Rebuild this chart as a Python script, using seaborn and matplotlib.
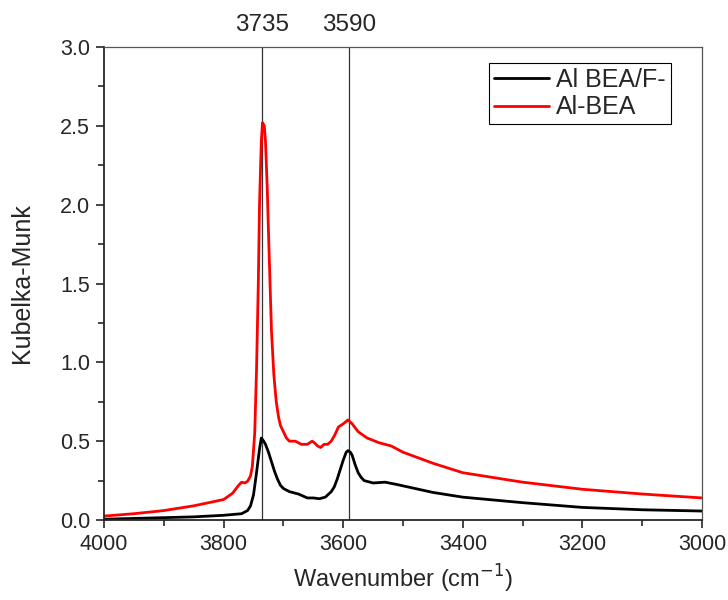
import pandas as pd
import matplotlib
matplotlib.use("Agg")
import matplotlib.pyplot as plt
import seaborn as sns
from matplotlib.ticker import MultipleLocator

# --- spectra (wavenumber in cm-1, Kubelka-Munk) ---
wn_red = [4000, 3950, 3900, 3850, 3800, 3785, 3775, 3770, 3765, 3760, 3755, 3752, 3748,
          3745, 3742, 3740, 3737, 3735, 3732, 3730, 3727, 3725, 3722, 3720, 3716,
          3712, 3708, 3705, 3700, 3695, 3690, 3680, 3670, 3660, 3652, 3648, 3643,
          3638, 3632, 3626, 3620, 3614, 3608, 3600, 3592, 3585, 3575, 3560, 3540,
          3520, 3500, 3450, 3400, 3350, 3300, 3200, 3100, 3000]
km_red = [0.025, 0.04, 0.06, 0.09, 0.13, 0.17, 0.22, 0.24, 0.235, 0.245, 0.28, 0.34, 0.55,
          0.95, 1.5, 2.0, 2.4, 2.52, 2.5, 2.4, 2.1, 1.83, 1.45, 1.2, 0.92,
          0.75, 0.65, 0.6, 0.56, 0.52, 0.5, 0.5, 0.48, 0.48, 0.5, 0.49, 0.47,
          0.46, 0.48, 0.48, 0.5, 0.54, 0.59, 0.61, 0.635, 0.61, 0.56, 0.52, 0.49,
          0.47, 0.43, 0.36, 0.3, 0.27, 0.24, 0.195, 0.165, 0.14]

wn_black = [4000, 3950, 3900, 3850, 3800, 3770, 3760, 3755, 3750, 3745, 3740, 3737,
            3733, 3730, 3725, 3720, 3715, 3710, 3705, 3700, 3690, 3675, 3660, 3650,
            3640, 3630, 3620, 3615, 3610, 3605, 3600, 3595, 3592, 3588, 3585, 3580,
            3575, 3570, 3565, 3550, 3530, 3510, 3480, 3450, 3400, 3300, 3200, 3100, 3000]
km_black = [0.005, 0.01, 0.015, 0.02, 0.03, 0.04, 0.06, 0.09, 0.16, 0.3, 0.45, 0.52,
            0.5, 0.48, 0.43, 0.37, 0.31, 0.26, 0.22, 0.2, 0.18, 0.165, 0.14, 0.14,
            0.135, 0.145, 0.18, 0.21, 0.26, 0.32, 0.38, 0.43, 0.44, 0.43, 0.41, 0.35,
            0.3, 0.27, 0.25, 0.235, 0.24, 0.225, 0.2, 0.175, 0.145, 0.11, 0.08, 0.065, 0.057]

peaks = [3735, 3590]
series_names = ["Al BEA/F-", "Al-BEA"]
series_colors = ["#000000", "#ff0000"]


def main():
    df = pd.concat([
        pd.DataFrame({"wn": wn_black, "km": km_black, "sample": series_names[0]}),
        pd.DataFrame({"wn": wn_red, "km": km_red, "sample": series_names[1]}),
    ])

    sns.set_style("ticks")
    plt.rcParams["font.family"] = ["Liberation Sans", "DejaVu Sans"]

    fig = plt.figure(figsize=(7.28, 6), dpi=100)
    ax = fig.add_axes([0.1429, 0.1333, 0.8214, 0.7884])

    sns.lineplot(data=df, x="wn", y="km", hue="sample", palette=series_colors,
                 hue_order=series_names, linewidth=2, sort=False, ax=ax)

    for p in peaks:
        ax.axvline(p, color="#333333", linewidth=0.9, zorder=1)
        ax.text(p, 3.07, str(p), ha="center", va="bottom", fontsize=17.5,
                clip_on=False)

    ax.set_xlim(4000, 3000)
    ax.set_ylim(0, 3.0)
    ax.xaxis.set_major_locator(MultipleLocator(200))
    ax.xaxis.set_minor_locator(MultipleLocator(100))
    ax.yaxis.set_major_locator(MultipleLocator(0.5))
    ax.yaxis.set_minor_locator(MultipleLocator(0.25))
    ax.yaxis.set_major_formatter(matplotlib.ticker.FormatStrFormatter("%.1f"))
    ax.tick_params(which="major", direction="out", length=6, width=1.2,
                   labelsize=15.5, pad=4)
    ax.tick_params(which="minor", direction="out", length=4, width=1.2)

    for side in ["left", "bottom"]:
        ax.spines[side].set_linewidth(1.3)
    for side in ["top", "right"]:
        ax.spines[side].set_linewidth(0.9)
        ax.spines[side].set_color("#555555")

    ax.set_xlabel("Wavenumber (cm$^{-1}$)", fontsize=17, labelpad=6)
    ax.set_ylabel("Kubelka-Munk", fontsize=18, labelpad=19)

    leg = ax.legend(loc="upper right", bbox_to_anchor=(0.948, 0.967), fontsize=18,
                    frameon=True, fancybox=False, edgecolor="black",
                    handlelength=2.2, handletextpad=0.3, borderpad=0.2,
                    labelspacing=0.15, borderaxespad=0)
    leg.get_frame().set_linewidth(0.8)
    leg.get_frame().set_alpha(1)
    leg.set_title(None)

    fig.savefig("out.png", dpi=100)


if __name__ == "__main__":
    main()
